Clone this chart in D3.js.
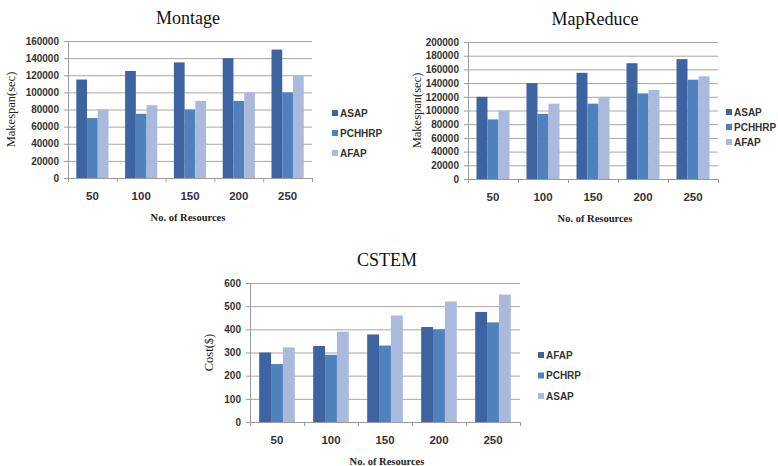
<!DOCTYPE html>
<html>
<head>
<meta charset="utf-8">
<script src="https://cdn.jsdelivr.net/npm/d3@7"></script>
<style>
  body { margin: 0; background: #fff; }
  svg { display: block; }
</style>
</head>
<body>
<svg width="778" height="466"></svg>
<script>
// Số tài nguyên (trục x chung)
const resources = ["50", "100", "150", "200", "250"];

// Montage
const montageSeries = ["ASAP", "PCHHRP", "AFAP"];
const montageASAP = [115000, 125000, 135000, 140000, 150000];
const montagePCHHRP = [70000, 75000, 80000, 90000, 100000];
const montageAFAP = [80000, 85000, 90000, 100000, 120000];
const montageTicks = [0, 20000, 40000, 60000, 80000, 100000, 120000, 140000, 160000];

// MapReduce
const mapSeries = ["ASAP", "PCHHRP", "AFAP"];
const mapASAP = [120000, 140000, 155000, 169000, 175000];
const mapPCHHRP = [87000, 95000, 110000, 125000, 145000];
const mapAFAP = [100000, 110000, 120000, 130000, 150000];
const mapTicks = [0, 20000, 40000, 60000, 80000, 100000, 120000, 140000, 160000, 180000, 200000];

// CSTEM
const cstemSeries = ["AFAP", "PCHRP", "ASAP"];
const cstemAFAP = [300, 328, 378, 410, 475];
const cstemPCHRP = [250, 290, 330, 400, 430];
const cstemASAP = [322, 390, 460, 520, 550];
const cstemTicks = [0, 100, 200, 300, 400, 500, 600];

const colors = ["#3d64a1", "#4f81bd", "#a9badc"];

const svg = d3.select("svg");

function drawChart(opt) {
    const g = svg.append("g");

    const x = d3.scaleBand()
        .domain(resources)
        .range([opt.left, opt.right])
        .paddingInner(0.34)
        .paddingOuter(0.17);

    const xs = d3.scaleBand()
        .domain(opt.series)
        .range([0, x.bandwidth()]);

    const y = d3.scaleLinear()
        .domain([0, d3.max(opt.ticks)])
        .range([opt.bottom, opt.top]);

    // Lưới ngang
    g.append("g")
        .selectAll("line")
        .data(opt.ticks.slice(1))
        .enter().append("line")
        .attr("x1", opt.left)
        .attr("x2", opt.right)
        .attr("y1", d => y(d) + 0.5)
        .attr("y2", d => y(d) + 0.5)
        .attr("stroke", "#a6a6a6")
        .attr("stroke-width", 1);

    // Vẽ cột
    const rows = resources.map((r, i) => ({ r, vals: opt.values.map(v => v[i]) }));
    g.append("g")
        .selectAll("g")
        .data(rows)
        .enter().append("g")
        .attr("transform", d => `translate(${x(d.r)},0)`)
        .selectAll("rect")
        .data(d => d.vals.map((v, j) => ({ s: opt.series[j], v, j })))
        .enter().append("rect")
        .attr("x", d => xs(d.s))
        .attr("y", d => y(d.v))
        .attr("width", xs.bandwidth())
        .attr("height", d => opt.bottom - y(d.v))
        .attr("fill", d => colors[d.j]);

    // Trục y
    const yAxis = g.append("g")
        .attr("transform", `translate(${opt.left},0)`)
        .call(d3.axisLeft(y).tickValues(opt.ticks).tickSize(4).tickPadding(5).tickFormat(d3.format("d")));
    yAxis.select(".domain").attr("stroke", "#9a9a9a");
    yAxis.selectAll(".tick line").attr("stroke", "#9a9a9a");
    yAxis.selectAll("text")
        .attr("font-family", "Liberation Sans, Arial, sans-serif")
        .attr("font-weight", "bold")
        .attr("font-size", 10)
        .attr("fill", "#333");

    // Trục x
    const xAxis = g.append("g")
        .attr("transform", `translate(0,${opt.bottom})`)
        .call(d3.axisBottom(x).tickSize(0).tickPadding(14));
    xAxis.select(".domain").attr("stroke", "#9a9a9a").attr("d", `M${opt.left},0.5H${opt.right}`);
    xAxis.selectAll("text")
        .attr("font-family", "Liberation Sans, Arial, sans-serif")
        .attr("font-weight", "bold")
        .attr("font-size", 11.5)
        .attr("fill", "#333");
    // vạch chia giữa các nhóm
    const step = x.step();
    xAxis.append("g")
        .selectAll("line")
        .data(d3.range(resources.length + 1))
        .enter().append("line")
        .attr("x1", i => opt.left + i * step + 0.5)
        .attr("x2", i => opt.left + i * step + 0.5)
        .attr("y1", 0)
        .attr("y2", 4)
        .attr("stroke", "#9a9a9a");

    // Tiêu đề
    g.append("text")
        .attr("x", (opt.left + opt.right) / 2 + opt.titleDx)
        .attr("y", opt.top - 17)
        .attr("text-anchor", "middle")
        .attr("font-family", "Liberation Serif, Times New Roman, serif")
        .attr("font-size", 18)
        .attr("fill", "#111")
        .text(opt.title);

    // Nhãn trục x
    g.append("text")
        .attr("x", (opt.left + opt.right) / 2 + opt.titleDx)
        .attr("y", opt.bottom + 43)
        .attr("text-anchor", "middle")
        .attr("font-family", "Liberation Serif, Times New Roman, serif")
        .attr("font-weight", "bold")
        .attr("font-size", 10.5)
        .attr("fill", "#222")
        .text("No. of Resources");

    // Nhãn trục y
    g.append("text")
        .attr("transform", `translate(${opt.ylabelX},${(opt.top + opt.bottom) / 2}) rotate(-90)`)
        .attr("text-anchor", "middle")
        .attr("dy", "0.35em")
        .attr("font-family", "Liberation Serif, Times New Roman, serif")
        .attr("font-size", 12.5)
        .attr("fill", "#222")
        .text(opt.ylabel);

    // Chú thích
    const leg = g.append("g")
        .selectAll("g")
        .data(opt.series)
        .enter().append("g")
        .attr("transform", (d, i) => `translate(${opt.legendX},${opt.legendY + i * opt.legendGap})`);
    leg.append("rect")
        .attr("x", 0).attr("y", -3)
        .attr("width", 6).attr("height", 6)
        .attr("fill", (d, i) => colors[i]);
    leg.append("text")
        .attr("x", 8)
        .attr("dy", "0.35em")
        .attr("font-family", "Liberation Sans, Arial, sans-serif")
        .attr("font-weight", "bold")
        .attr("font-size", 10)
        .attr("fill", "#333")
        .text(d => d);
}

drawChart({
    title: "Montage", ylabel: "Makespan(sec)",
    series: montageSeries, values: [montageASAP, montagePCHHRP, montageAFAP], ticks: montageTicks,
    left: 68, right: 312, top: 41, bottom: 178, titleDx: -2,
    ylabelX: 11, legendX: 332, legendY: 113, legendGap: 20
});

drawChart({
    title: "MapReduce", ylabel: "Makespan(sec)",
    series: mapSeries, values: [mapASAP, mapPCHHRP, mapAFAP], ticks: mapTicks,
    left: 468, right: 718, top: 42, bottom: 179, titleDx: 2,
    ylabelX: 417, legendX: 726, legendY: 112, legendGap: 15
});

drawChart({
    title: "CSTEM", ylabel: "Cost($)",
    series: cstemSeries, values: [cstemAFAP, cstemPCHRP, cstemASAP], ticks: cstemTicks,
    left: 250, right: 520, top: 283, bottom: 422, titleDx: 2,
    ylabelX: 209, legendX: 538, legendY: 355, legendGap: 20.5
});
</script>
</body>
</html>
